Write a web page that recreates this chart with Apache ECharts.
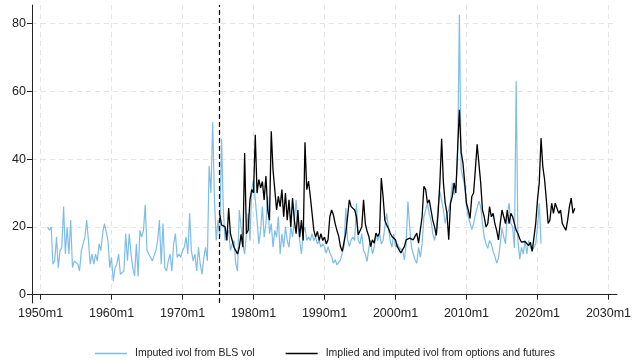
<!DOCTYPE html>
<html><head><meta charset="utf-8">
<script src="https://cdn.jsdelivr.net/npm/echarts@6/dist/echarts.min.js"></script>
<style>html,body{margin:0;padding:0;background:#fff}#c{width:644px;height:364px}</style>
</head><body><div id="c"></div>
<script>
const xTickYears = [1950, 1960, 1970, 1980, 1990, 2000, 2010, 2020, 2030];
const yTicks = [0, 20, 40, 60, 80];
const cutoffYear = 1975.17;
const blueName = 'Imputed ivol from BLS vol';
const blackName = 'Implied and imputed ivol from options and futures';

// quarterly readings, first value at blueStart
const blueStart = 1951.0;
const blueValues = [
  20, 19, 20, 9,    10, 17, 8, 13,    14, 26, 12, 20,   12, 22, 8, 10,
  10, 9, 7, 13,     15, 17, 22, 16,   9, 12, 9, 12,     10, 15, 13, 18,
  21, 21, 16, 8,    11, 4, 8, 9,      12, 6, 6, 7,      18, 10, 18, 12,
  8, 5.5, 15, 5.4,  19, 17, 19, 26.5, 13, 12, 11, 10,   10, 13, 16, 22,
  9, 21, 8, 7,      10, 12, 7, 15,    18, 11, 12, 11,   13, 14, 17, 12,
  24, 13, 10, 12,   7, 14, 9, 6,      11, 14, 10, 38,   30, 51, 28, 16,
  22, 17, 46, 25,   16, 18, 19, 13,   15, 16, 9, 7,     25, 20, 15, 12,
  18, 24, 16, 31,   34, 28, 22, 15,   19, 26, 17, 21,   29, 18, 21, 14,
  19, 17, 23, 12,   18, 14, 20, 16,   14, 20, 17, 22,   28, 21, 16, 12,
  18, 20, 16, 17,   16, 18, 16, 17,   15, 16, 14, 15,   14, 12.3, 14.2, 12.3,
  11.3, 9.3, 10.3, 8.8, 8.3, 10.3, 12.3, 14.2, 25.6, 16.2, 14.2, 16.2, 17, 16, 27, 16,
  15, 18, 13, 12,   9.8, 14, 16, 12,  14, 18, 16, 18,   15, 16, 20, 24,
  20, 16, 14, 18,   14, 15, 14, 13.7, 13, 10.3, 15, 27.5, 20, 14, 12, 10.3,
  9.3, 14, 11, 15,  23, 25, 27, 24,   22, 18, 16, 19,   26, 30.5, 30, 25,
  21, 24, 25, 27.5, 33, 29.5, 31.5, 40, 82.6, 37, 34.5, 32, 26, 23, 22.6, 19.2,
  21, 23.6, 25.6, 27.6, 26, 21, 17, 15, 13.7, 16, 15, 12.8, 11.3, 9.3, 10.8, 15,
  19.6, 17, 15, 24, 27, 21, 20, 13.8, 63, 16, 10.5, 14, 12, 16, 12, 16,
  14, 13, 14, 15,   20, 27, 15
];

const blackStart = 1975.25;
const blackValues = [
  23.6, 20.6, 21,
  20, 16, 25.6, 18,   16, 14, 13, 12,    14, 17.8, 14, 41.8,  18, 19, 28, 31,
  30, 47.2, 30, 34,   31.5, 33.4, 28, 35, 25, 22, 48.2, 36.8, 36.4, 25, 29, 26,
  31, 23, 30, 22,     28, 20, 28.5, 22,  18, 25, 17, 22,     16, 45, 31, 33.5,
  29, 24, 19, 17,     18.7, 16, 18, 16,  17, 15, 16.2, 23,   25, 23.6, 21, 19,
  17.2, 14.2, 12.8, 13.3, 18.2, 23, 28, 26, 25.6, 25, 23, 17.7, 17.2, 20, 28, 21,
  18.7, 17.2, 14.2, 16.2, 15.2, 18.2, 17.2, 18.2, 34.4, 29, 22, 20.6, 19.6, 18.2, 17.2, 16.7,
  16.2, 14.2, 13.3, 12.3, 13.3, 14.2, 16.2, 16.2, 16.7, 17.2, 16.2, 17.2, 18.2, 15.2, 19.2, 23,
  32, 31, 27, 28,     25, 22, 20, 17.5,  24, 33, 46, 33,     27, 24, 16.2, 27,
  29, 33, 30, 43,     54.6, 42, 38.9, 33, 27, 25, 22.5, 29,  30, 37, 44.4, 44.8,
  33, 25, 23, 20,     21, 26, 23, 24,    21, 19, 16.2, 21,   25, 23, 21, 25,
  21, 24, 23, 21,     19, 18, 16.5, 15.5, 15, 15.7, 16.2, 14.5, 15.5, 12.8, 12.3, 21,
  28, 33, 46.2, 37.8, 34, 28, 21, 22,    27, 24, 27, 27.5,   24, 25, 21, 20,
  19, 22, 26, 28.5,   24, 25.5
];

function toPairs(start, vals) { return vals.map((v, i) => [start + i / 4, v]); }

const font = 'Liberation Sans, Arial, Helvetica, sans-serif';
const gridLine = { show: true, lineStyle: { color: '#e4e4e4', width: 1, type: [5, 4] } };

const chart = echarts.init(document.getElementById('c'), null, { renderer: 'canvas' });
chart.setOption({
  animation: false,
  backgroundColor: '#fff',
  grid: { left: 32, right: 27, top: 5, bottom: 61, containLabel: false },
  xAxis: {
    type: 'value', min: 1948.8, max: 2031.2,
    axisLine: { show: true, lineStyle: { color: '#222', width: 1 } },
    axisTick: { show: true, length: 5, lineStyle: { color: '#222' }, customValues: xTickYears },
    axisLabel: { customValues: xTickYears, formatter: v => v + 'm1', color: '#222', fontSize: 12.5, fontFamily: font, margin: 4 },
    splitLine: gridLine
  },
  yAxis: {
    type: 'value', min: -2.45, max: 85.5,
    axisLine: { show: true, lineStyle: { color: '#222', width: 1 } },
    axisTick: { show: true, length: 5, lineStyle: { color: '#222' }, customValues: yTicks },
    axisLabel: { customValues: yTicks, color: '#222', fontSize: 12.5, fontFamily: font, margin: 6 },
    splitLine: gridLine
  },
  legend: {
    left: 90, top: 343, icon: 'rect', itemWidth: 32, itemHeight: 1.5, itemGap: 31,
    textStyle: { fontSize: 10.5, fontFamily: font, color: '#222', padding: [0, 0, 0, 3] },
    data: [blueName, blackName]
  },
  series: [
    {
      name: blueName, type: 'line', symbol: 'none', showSymbol: false,
      data: toPairs(blueStart, blueValues),
      lineStyle: { color: '#7dbde9', width: 1.2 }, itemStyle: { color: '#7dbde9' }
    },
    {
      name: blackName, type: 'line', symbol: 'none', showSymbol: false,
      data: toPairs(blackStart, blackValues),
      lineStyle: { color: '#000', width: 1.3 }, itemStyle: { color: '#000' },
      markLine: {
        silent: true, symbol: ['none', 'none'], label: { show: false },
        lineStyle: { color: '#000', type: [5, 3], width: 1.2 },
        data: [{ xAxis: cutoffYear }]
      }
    }
  ]
});
</script></body></html>
